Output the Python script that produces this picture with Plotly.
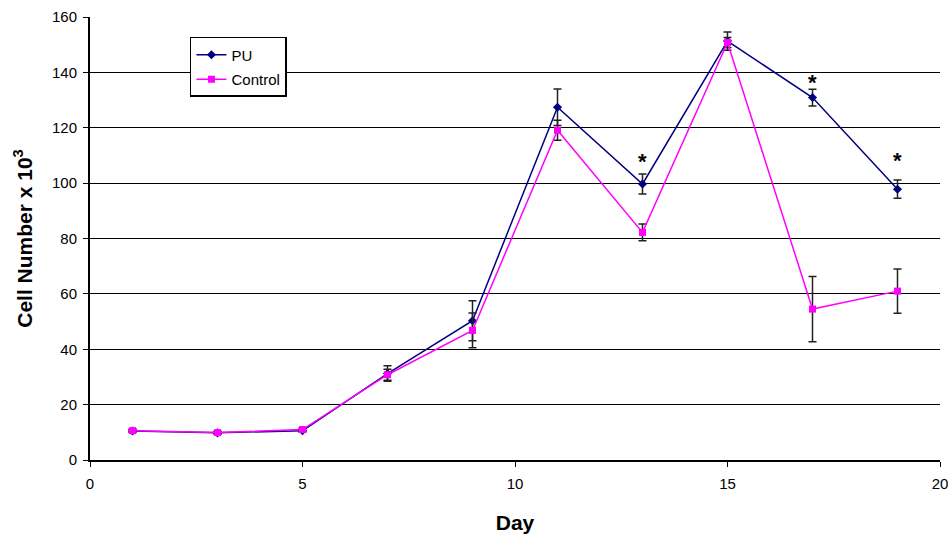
import plotly.graph_objects as go

days = [1, 3, 5, 7, 9, 11, 13, 15, 17, 19]
pu = [10.5, 9.8, 10.6, 31.2, 50.3, 127.4, 99.7, 151.3, 130.9, 97.8]
pu_err = [0.6, 0.5, 0.6, 2.8, 7.2, 6.6, 3.6, 3.3, 3.0, 3.3]
control = [10.6, 9.9, 11.0, 30.8, 46.8, 119.1, 82.2, 150.8, 54.5, 61.0]
control_err = [0.5, 0.5, 0.6, 2.0, 6.3, 3.6, 3.0, 1.8, 11.8, 8.0]
star_days = [13, 17, 19]
star_y = [108.7, 136.9, 108.9]

fig = go.Figure()
fig.add_trace(go.Scatter(
    x=days, y=pu, name="PU", mode="lines+markers", legendgroup="a",
    line=dict(color="#000080", width=1.5),
    marker=dict(symbol="diamond", size=7, color="#000080"),
    error_y=dict(type="data", array=pu_err, visible=True, color="#222222", thickness=1.5, width=4),
))
fig.add_trace(go.Scatter(
    x=days, y=control, name="Control", mode="lines+markers", legendgroup="b",
    line=dict(color="#FF00FF", width=1.5),
    marker=dict(symbol="square", size=7, color="#FF00FF"),
    error_y=dict(type="data", array=control_err, visible=True, color="#222222", thickness=1.5, width=4),
))

for d, s in zip(star_days, star_y):
    fig.add_annotation(x=d, y=s, text="<b>*</b>", showarrow=False,
                       font=dict(size=22, color="black", family="Liberation Sans, Arial"),
                       yanchor="middle", yshift=-2)

fig.update_layout(
    width=950, height=535,
    margin=dict(l=90, r=10, t=17, b=75),
    paper_bgcolor="white", plot_bgcolor="white",
    font=dict(family="Liberation Sans, Arial", size=15, color="black"),
    showlegend=True,
    legend=dict(x=0.1176, y=0.955, xanchor="left", yanchor="top",
                bordercolor="black", borderwidth=1.5, bgcolor="white",
                font=dict(size=15), tracegroupgap=2, itemwidth=30,
                entrywidth=115, entrywidthmode="pixels"),
    xaxis=dict(range=[0, 20], tickvals=[0, 5, 10, 15, 20], showgrid=False, zeroline=False,
               automargin=False, ticklabelstandoff=4,
               showline=True, linecolor="black", linewidth=2, ticks="outside", ticklen=5,
               tickcolor="black", tickfont=dict(size=15),
               title=dict(text="<b>Day</b>", font=dict(size=21), standoff=24)),
    yaxis=dict(range=[0, 160], tickvals=list(range(0, 161, 20)), showgrid=True,
               automargin=False, ticklabelstandoff=3,
               gridcolor="black", gridwidth=1, zeroline=False,
               showline=True, linecolor="black", linewidth=2, ticks="outside", ticklen=5,
               tickcolor="black", tickfont=dict(size=15),
               title=dict(text="<b>Cell Number x 10<sup>3</sup></b>", font=dict(size=21), standoff=14)),
)

fig.write_html("out.html")
